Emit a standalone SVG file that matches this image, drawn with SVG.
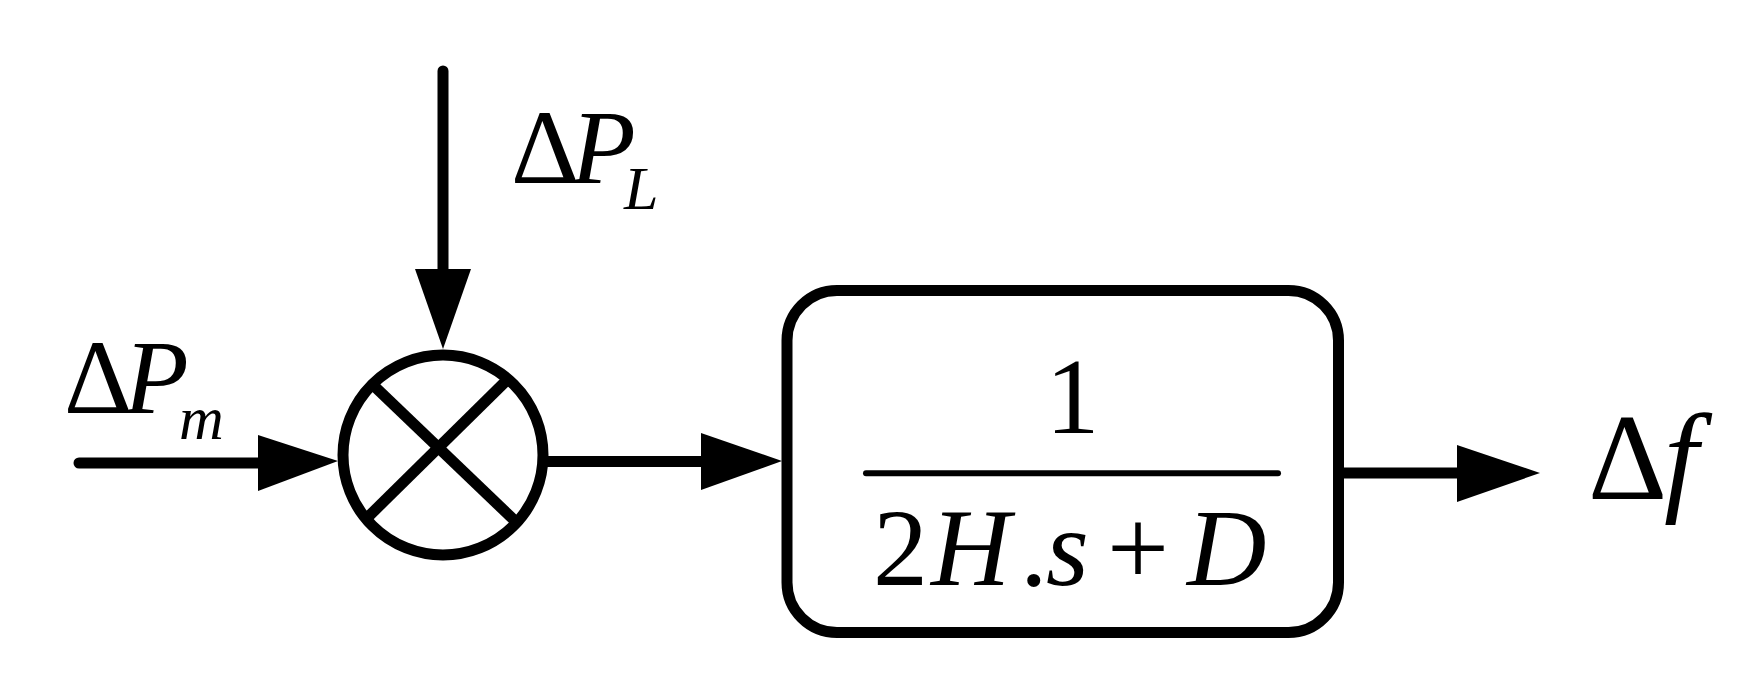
<svg xmlns="http://www.w3.org/2000/svg" width="1764" height="686" viewBox="0 0 1764 686">
<style>
.ln{stroke:#000;stroke-width:11;fill:none;stroke-linecap:round}
.ah{fill:#000;stroke:none}
.t{font-family:"Liberation Serif","Times New Roman",serif;fill:#000}
.i{font-style:italic}
</style>
<rect width="1764" height="686" fill="#fff"/>
<g id="connectors">
<line class="ln" x1="443" y1="71" x2="443" y2="272"/>
<polygon class="ah" points="415,269 471,269 443,349"/>
<line class="ln" x1="79" y1="463" x2="262" y2="463"/>
<polygon class="ah" points="258,435 258,491 338,461"/>
<line class="ln" x1="547" y1="461.5" x2="704" y2="461.5" style="stroke-linecap:butt"/>
<polygon class="ah" points="701,433 701,490 782,461"/>
<line class="ln" x1="1344" y1="473" x2="1460" y2="473" style="stroke-linecap:butt"/>
<polygon class="ah" points="1457,445 1457,502 1540,473"/>
</g>
<g id="sum">
<circle class="ln" cx="443" cy="455" r="100"/>
<line class="ln" x1="372" y1="384" x2="514" y2="520" style="stroke-linecap:butt"/>
<line class="ln" x1="506" y1="381" x2="368" y2="517" style="stroke-linecap:butt"/>
</g>
<g id="block">
<rect class="ln" x="787" y="290.5" width="551.5" height="342" rx="50" ry="50"/>
<line class="ln" x1="866" y1="473.3" x2="1278" y2="473.3" style="stroke-width:6"/>
<text class="t" x="1072.5" y="433" font-size="108" text-anchor="middle">1</text>
<text class="t" y="585" font-size="110"><tspan x="873">2</tspan><tspan x="931" class="i">H</tspan><tspan x="1020">.</tspan><tspan x="1046" class="i">s</tspan><tspan x="1107">+</tspan><tspan x="1187" class="i">D</tspan></text>
</g>
<g id="label-PL">
<text class="t" y="183" font-size="106"><tspan x="511">Δ</tspan><tspan x="571" class="i">P</tspan><tspan x="624" y="209" class="i" font-size="62">L</tspan></text>
</g>
<g id="label-Pm">
<text class="t" y="413" font-size="106"><tspan x="64">Δ</tspan><tspan x="124" class="i">P</tspan><tspan x="179" y="439" class="i" font-size="62">m</tspan></text>
</g>
<g id="label-f">
<text class="t" y="499" font-size="123"><tspan x="1588">Δ</tspan><tspan x="1664" class="i">f</tspan></text>
</g>
</svg>
